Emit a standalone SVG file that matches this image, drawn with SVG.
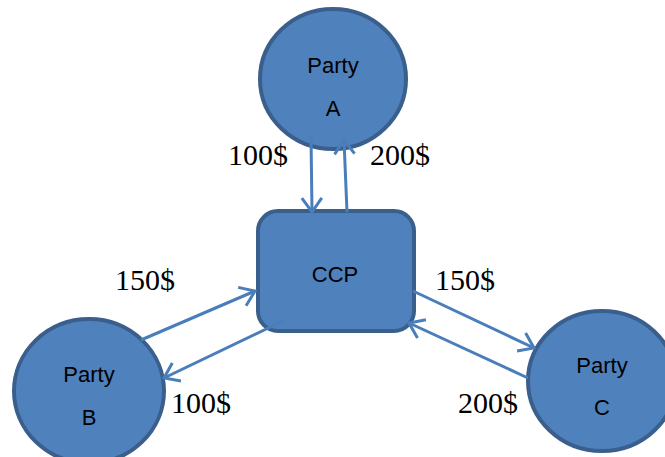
<svg xmlns="http://www.w3.org/2000/svg" width="665" height="457" viewBox="0 0 665 457">
<style>
.node{fill:#4F81BD;stroke:#3A5F8C;stroke-width:4}
.lbl{font-family:"Liberation Sans",Arial,sans-serif;font-size:22px;fill:#000;text-anchor:middle}
.amt{font-family:"Liberation Serif","Times New Roman",serif;font-size:30px;fill:#000}
.conn{stroke:#4A7EBB;stroke-width:3;fill:none;marker-end:url(#arr)}
</style>
<defs>
<marker id="arr" markerUnits="userSpaceOnUse" markerWidth="30" markerHeight="30" refX="0" refY="0" viewBox="-20 -15 25 30" orient="auto" overflow="visible">
<path d="M-14,-10 L0,0 L-14,10" fill="none" stroke="#4A7EBB" stroke-width="3"/>
</marker>
</defs>
<rect width="665" height="457" fill="#fff"/>
<g id="partyA">
<ellipse class="node" cx="333" cy="79" rx="73" ry="70"/>
<text class="lbl" x="333" y="73">Party</text>
<text class="lbl" x="333" y="116">A</text>
</g>
<g id="ccp">
<rect class="node" x="258" y="211" width="156" height="120" rx="20" ry="20"/>
<text class="lbl" x="335" y="282">CCP</text>
</g>
<g id="partyB">
<ellipse class="node" cx="89" cy="391" rx="75" ry="72"/>
<text class="lbl" x="89" y="382">Party</text>
<text class="lbl" x="89" y="425">B</text>
</g>
<g id="partyC">
<ellipse class="node" cx="602" cy="381" rx="74" ry="70"/>
<text class="lbl" x="602" y="373">Party</text>
<text class="lbl" x="602" y="415">C</text>
</g>
<g id="connectors">
<line class="conn" x1="311" y1="136" x2="312" y2="212"/>
<line class="conn" x1="347" y1="212" x2="344" y2="140"/>
<line class="conn" x1="141" y1="340" x2="255" y2="291"/>
<line class="conn" x1="285" y1="320" x2="164" y2="378"/>
<line class="conn" x1="413" y1="291" x2="534" y2="348"/>
<line class="conn" x1="528" y1="378" x2="409" y2="323"/>
</g>
<g id="labels">
<text class="amt" x="228" y="165">100$</text>
<text class="amt" x="370" y="165">200$</text>
<text class="amt" x="115" y="290">150$</text>
<text class="amt" x="171" y="413">100$</text>
<text class="amt" x="435" y="290">150$</text>
<text class="amt" x="458" y="413">200$</text>
</g>
</svg>
